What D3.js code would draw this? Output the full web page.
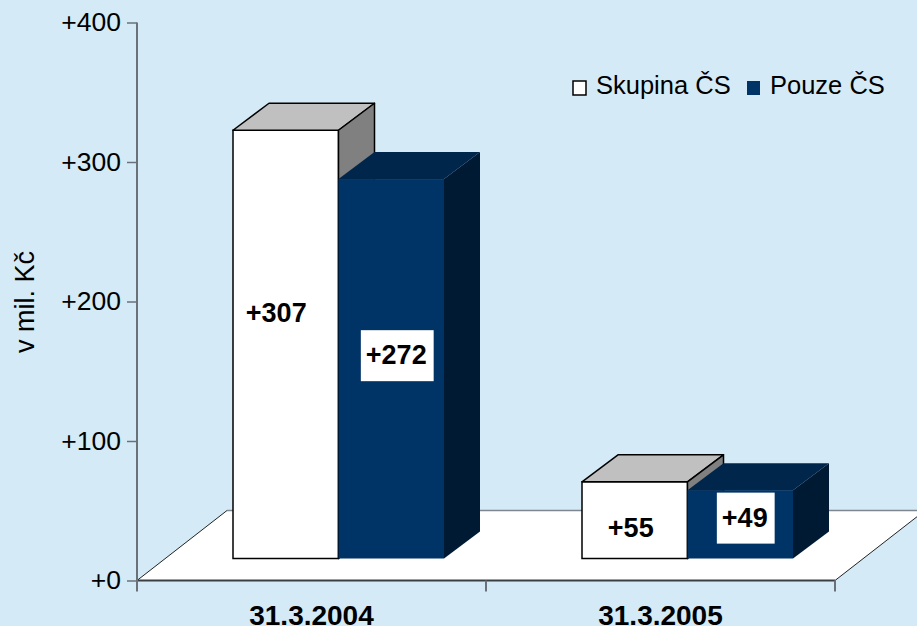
<!DOCTYPE html>
<html>
<head>
<meta charset="utf-8">
<script src="https://cdn.jsdelivr.net/npm/d3@7"></script>
<style>
  html, body { margin: 0; padding: 0; background: #d4eaf6; }
  svg { display: block; font-family: Arial, "Liberation Sans", sans-serif; }
</style>
</head>
<body>
<svg id="chart" width="917" height="626"></svg>
<script>
// ---- data ----
const categories = ["31.3.2004", "31.3.2005"];
const seriesNames = ["Skupina ČS", "Pouze ČS"];
const skupinaValues = [307, 55];
const pouzeValues = [272, 49];
const yTickValues = [0, 100, 200, 300, 400];
const yTickLabels = ["+0", "+100", "+200", "+300", "+400"];
const yAxisTitle = "v mil. Kč";

// ---- styles / layout ----
const W = 917, H = 626;
const colors = {
  bg: "#d4eaf6",
  white: { front: "#ffffff", top: "#c0c0c0", side: "#808080", stroke: "#000000" },
  navy: { front: "#003366", top: "#00264c", side: "#001a33", stroke: "none" }
};
const seriesStyles = [colors.white, colors.navy];
const seriesValues = [skupinaValues, pouzeValues];

const svg = d3.select("#chart");
svg.append("rect").attr("width", W).attr("height", H).attr("fill", colors.bg);

const y = d3.scaleLinear().domain([0, 400]).range([580.5, 22.5]);
const x0 = d3.scaleBand().domain(categories).range([137, 835]);

// floor depth projection
const floorDX = 90, floorDY = -70;
// bars sit inside floor depth
const barOX = 27, barOY = -22;      // front face offset from floor front
const barDX = 36, barDY = -27;      // bar depth
const groupW = 211;
const x1 = d3.scaleBand().domain(seriesNames).range([0, groupW]);

// ---- floor ----
const fx0 = x0.range()[0], fx1 = x0.range()[1], fy = y(0);
svg.append("polygon")
  .attr("points", [[fx0, fy], [fx0 + floorDX, fy + floorDY], [fx1 + floorDX, fy + floorDY], [fx1, fy]].map(p => p.join(",")).join(" "))
  .attr("fill", "#ffffff").attr("stroke", "none");
// back edge
svg.append("line").attr("x1", fx0 + floorDX).attr("x2", fx1 + floorDX)
  .attr("y1", fy + floorDY).attr("y2", fy + floorDY)
  .attr("stroke", "#7f878e").attr("stroke-width", 1.5);
// side edges
[fx0, fx1].forEach(xx => {
  svg.append("line").attr("x1", xx).attr("y1", fy).attr("x2", xx + floorDX).attr("y2", fy + floorDY)
    .attr("stroke", "#222").attr("stroke-width", 1);
});
// front edge
svg.append("line").attr("x1", fx0).attr("x2", fx1).attr("y1", fy).attr("y2", fy)
  .attr("stroke", "#3a3f44").attr("stroke-width", 2);

// category ticks
const catEdges = categories.map(c => x0(c)).concat([x0.range()[1]]);
svg.selectAll(".ctick").data(catEdges.slice(1)).enter().append("line")
  .attr("x1", d => d).attr("x2", d => d).attr("y1", fy).attr("y2", fy + 11)
  .attr("stroke", "#6b7178").attr("stroke-width", 2);

// category labels
svg.selectAll(".clabel").data(categories).enter().append("text")
  .attr("x", d => x0(d) + x0.bandwidth() / 2).attr("y", 625)
  .attr("text-anchor", "middle").attr("font-weight", "bold").attr("font-size", 28)
  .attr("fill", "#000").text(d => d);

// ---- bars ----
const bars = [];
categories.forEach((c, ci) => {
  seriesNames.forEach((s, si) => {
    const v = seriesValues[si][ci];
    const left = x0(c) + x0.bandwidth() / 2 - groupW / 2 + barOX + x1(s);
    const right = left + x1.bandwidth();
    const bottom = y(0) + barOY;
    const top = y(v) + barOY;
    bars.push({ c, ci, s, si, v, left, right, bottom, top });
  });
});

const labelNudge = [[[-9.5, -32.5], [5, -14.6]], [[-4, 6.5], [4.5, -7.7]]];

const gBars = svg.append("g");
bars.forEach(b => {
  const st = seriesStyles[b.si];
  const g = gBars.append("g");
  const sw = st.stroke === "none" ? 0 : 1.5;
  // front
  g.append("rect").attr("x", b.left).attr("y", b.top).attr("width", b.right - b.left).attr("height", b.bottom - b.top)
    .attr("fill", st.front).attr("stroke", st.stroke).attr("stroke-width", sw);
  // top
  g.append("polygon").attr("points", [[b.left, b.top], [b.left + barDX, b.top + barDY], [b.right + barDX, b.top + barDY], [b.right, b.top]].map(p => p.join(",")).join(" "))
    .attr("fill", st.top).attr("stroke", st.stroke).attr("stroke-width", sw).attr("stroke-linejoin", "round");
  // side
  g.append("polygon").attr("points", [[b.right, b.top], [b.right + barDX, b.top + barDY], [b.right + barDX, b.bottom + barDY], [b.right, b.bottom]].map(p => p.join(",")).join(" "))
    .attr("fill", st.side).attr("stroke", st.stroke).attr("stroke-width", sw).attr("stroke-linejoin", "round");
});

// value labels
bars.forEach(b => {
  const nd = labelNudge[b.ci][b.si];
  const cx = (b.left + b.right) / 2 + nd[0];
  const cy = (b.top + b.bottom) / 2 + nd[1];
  const baseline = cy + 10;
  const t = svg.append("text").attr("x", cx).attr("y", baseline)
    .attr("text-anchor", "middle").attr("font-weight", "bold").attr("font-size", 27)
    .attr("fill", "#000").text("+" + b.v);
  if (b.si === 1) {
    const bb = t.node().getBBox();
    svg.insert("rect", () => t.node())
      .attr("x", bb.x - 5).attr("y", baseline - 34)
      .attr("width", bb.width + 12).attr("height", 51)
      .attr("fill", "#ffffff");
  }
});

// ---- y axis ----
const yAxis = d3.axisLeft(y).tickValues(yTickValues)
  .tickFormat((d, i) => yTickLabels[i]).tickSize(10).tickSizeOuter(0).tickPadding(6);
const gy = svg.append("g").attr("transform", "translate(137,0)").call(yAxis);
gy.select(".domain").remove();
gy.selectAll(".tick line").attr("stroke", "#6b7178").attr("stroke-width", 1.5);
gy.selectAll(".tick text").attr("font-size", 26.5).attr("fill", "#000")
  .attr("font-family", "Arial, 'Liberation Sans', sans-serif");
svg.append("line").attr("x1", 137).attr("x2", 137).attr("y1", y(400)).attr("y2", y(0) + 11)
  .attr("stroke", "#6b7178").attr("stroke-width", 2);

svg.append("text").attr("transform", "translate(34,302) rotate(-90)")
  .attr("text-anchor", "middle").attr("font-size", 27).attr("fill", "#000").text(yAxisTitle);

// ---- legend ----
const legendX = [573, 747];
seriesNames.forEach((s, i) => {
  const st = seriesStyles[i];
  svg.append("rect").attr("x", legendX[i]).attr("y", 81).attr("width", 13).attr("height", 14)
    .attr("fill", st.front).attr("stroke", i === 0 ? "#000" : "none").attr("stroke-width", 1.5);
  svg.append("text").attr("x", legendX[i] + 23).attr("y", 94).attr("font-size", 25.5)
    .attr("fill", "#000").text(s);
});
</script>
</body>
</html>
